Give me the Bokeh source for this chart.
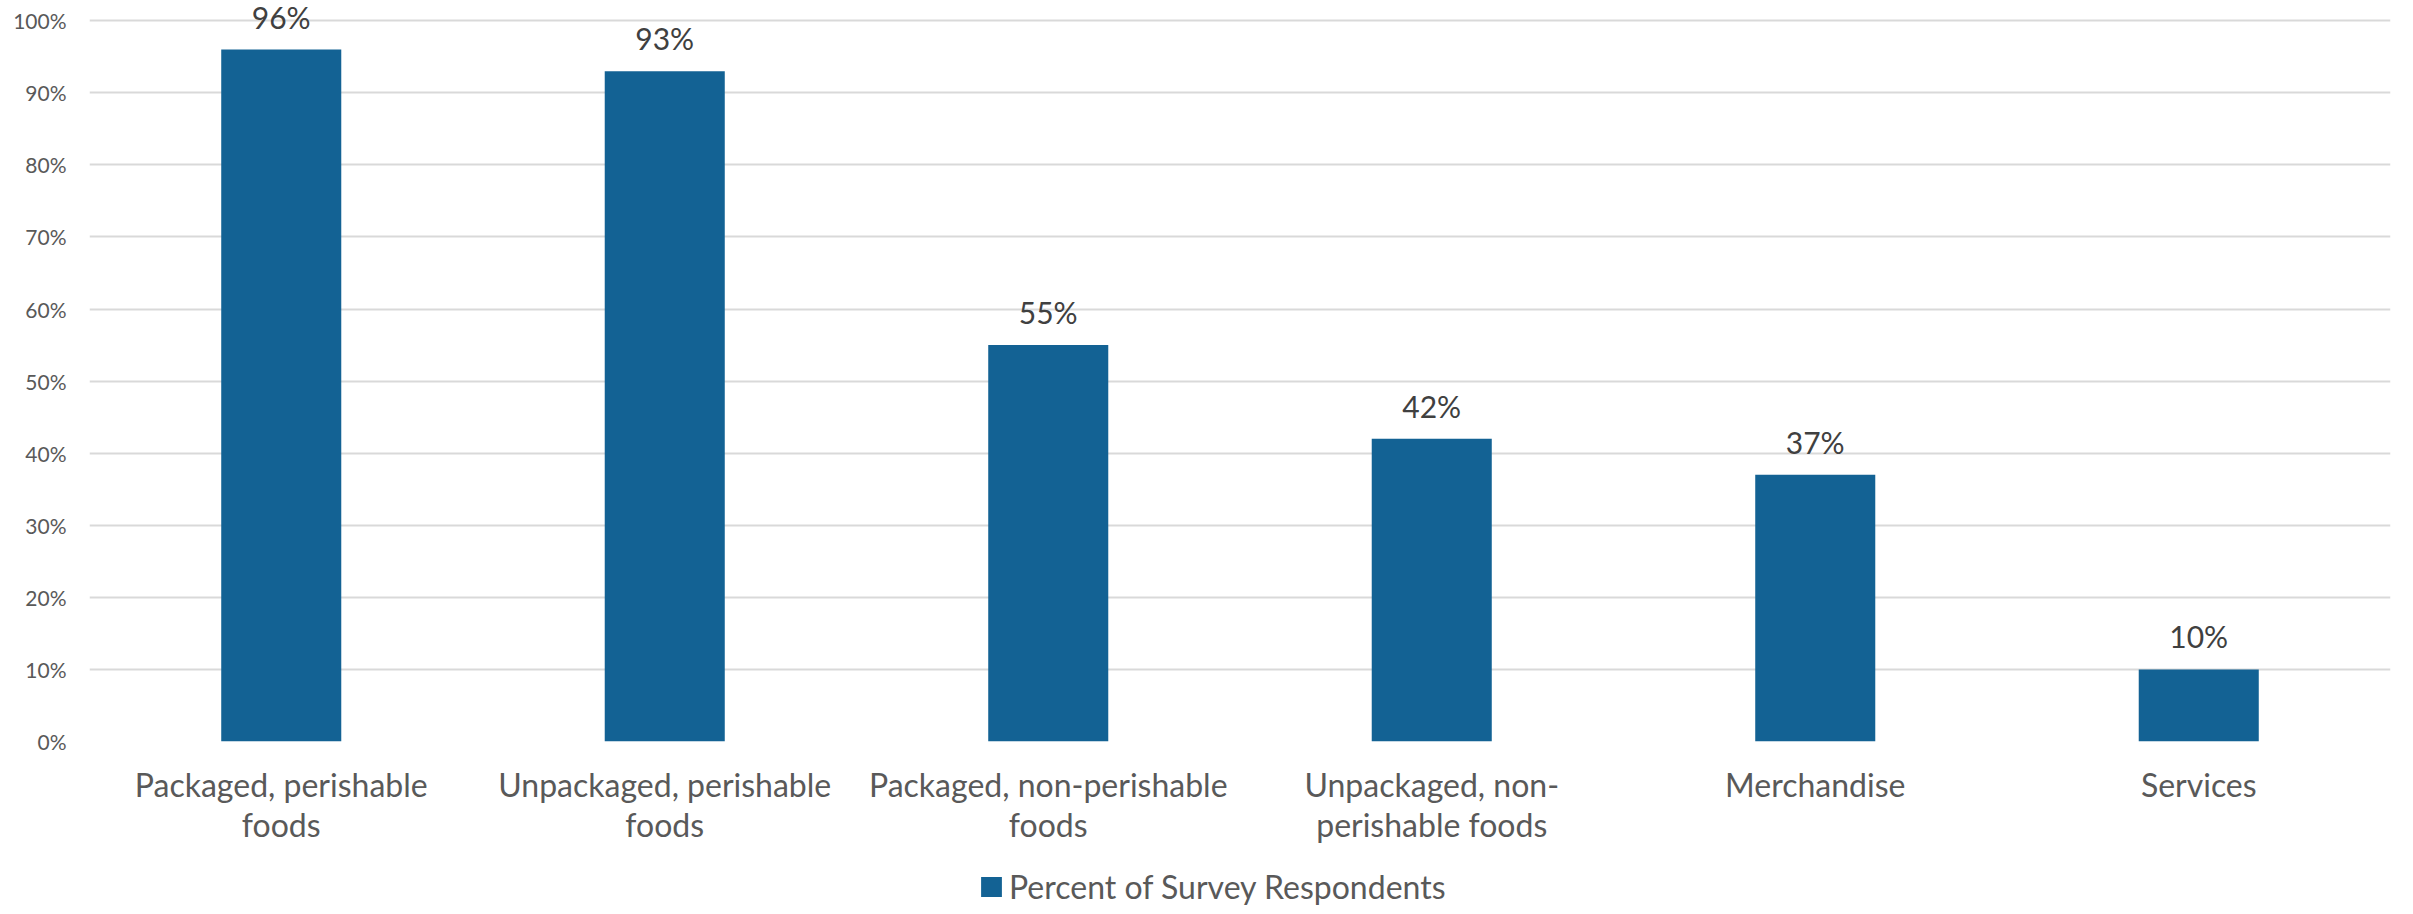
from bokeh.plotting import figure
from bokeh.layouts import column
from bokeh.models import (ColumnDataSource, LabelSet, Legend, LegendItem,
                          PrintfTickFormatter, FactorRange, Range1d, FixedTicker)
from bokeh.core.properties import value
from bokeh.embed import file_html
from bokeh.resources import INLINE

categories = ["Packaged, perishable\nfoods",
              "Unpackaged, perishable\nfoods",
              "Packaged, non-perishable\nfoods",
              "Unpackaged, non-\nperishable foods",
              "Merchandise",
              "Services"]
values = [96, 93, 55, 42, 37, 10]
value_labels = [f"{v}%" for v in values]
series_name = "Percent of Survey Respondents"
y_ticks = [0, 10, 20, 30, 40, 50, 60, 70, 80, 90, 100]

FONT = "Lato"
BAR = "#136294"
GREY = "#595959"

src = ColumnDataSource(dict(cat=categories, val=values, lab=value_labels))

W = 2405
p = figure(x_range=FactorRange(*categories), y_range=Range1d(0, 102.8),
           width=W, height=868, output_backend="svg", toolbar_location=None,
           min_border_left=89, min_border_right=15, min_border_top=0,
           min_border_bottom=127)
p.outline_line_color = None
p.background_fill_color = "white"

r = p.vbar(x="cat", top="val", width=0.313, source=src, fill_color=BAR, line_color=None)

p.xgrid.grid_line_color = None
p.ygrid.grid_line_color = "#d9d9d9"
p.ygrid.grid_line_width = 2
p.yaxis.ticker = FixedTicker(ticks=y_ticks)
p.yaxis.formatter = PrintfTickFormatter(format="%d%%")
p.yaxis.axis_line_color = None
p.yaxis.major_tick_line_color = None
p.yaxis.minor_tick_line_color = None
p.yaxis.major_tick_out = 0
p.yaxis.major_tick_in = 0
p.yaxis.major_label_standoff = 23
p.yaxis.major_label_text_font = FONT
p.yaxis.major_label_text_font_size = "21px"
p.yaxis.major_label_text_color = GREY

p.xaxis.axis_line_color = None
p.xaxis.major_tick_line_color = None
p.xaxis.minor_tick_line_color = None
p.xaxis.major_tick_out = 0
p.xaxis.major_tick_in = 0
p.xaxis.major_label_standoff = 23
p.xaxis.major_label_text_font = FONT
p.xaxis.major_label_text_font_size = "32px"
p.xaxis.major_label_text_color = GREY
p.xaxis.major_label_text_line_height = 1.05
p.x_range.range_padding = 0

labels = LabelSet(x="cat", y="val", text="lab", source=src, y_offset=15,
                  text_align="center", text_baseline="bottom",
                  text_font=value(FONT), text_font_size=value("30px"),
                  text_color="#404040")
p.add_layout(labels)

# legend strip underneath the chart (its frame is aligned with the chart's frame)
LH = 38
p2 = figure(x_range=Range1d(0, W), y_range=Range1d(0, LH), width=W, height=LH,
            output_backend="svg", toolbar_location=None,
            x_axis_location=None, y_axis_location=None,
            min_border_left=0, min_border_right=0, min_border_top=0,
            min_border_bottom=0)
p2.grid.visible = False
p2.outline_line_color = None
# zero-height bars: only used to give the legend its swatch
r2 = p2.vbar(x="val", top=0, bottom=0, width=0, source=src,
             fill_color=BAR, line_color=None)

legend = Legend(items=[LegendItem(label=series_name, renderers=[r2])],
                location=(889, 0), orientation="horizontal",
                padding=0, margin=0, spacing=0,
                glyph_width=26, glyph_height=25, label_standoff=5,
                label_text_font=FONT, label_text_font_size="32px",
                label_text_color=GREY, border_line_color=None,
                background_fill_alpha=0)
p2.add_layout(legend, "center")

layout = column(p, p2, spacing=0)
open("out.html", "w").write(file_html(layout, INLINE))
